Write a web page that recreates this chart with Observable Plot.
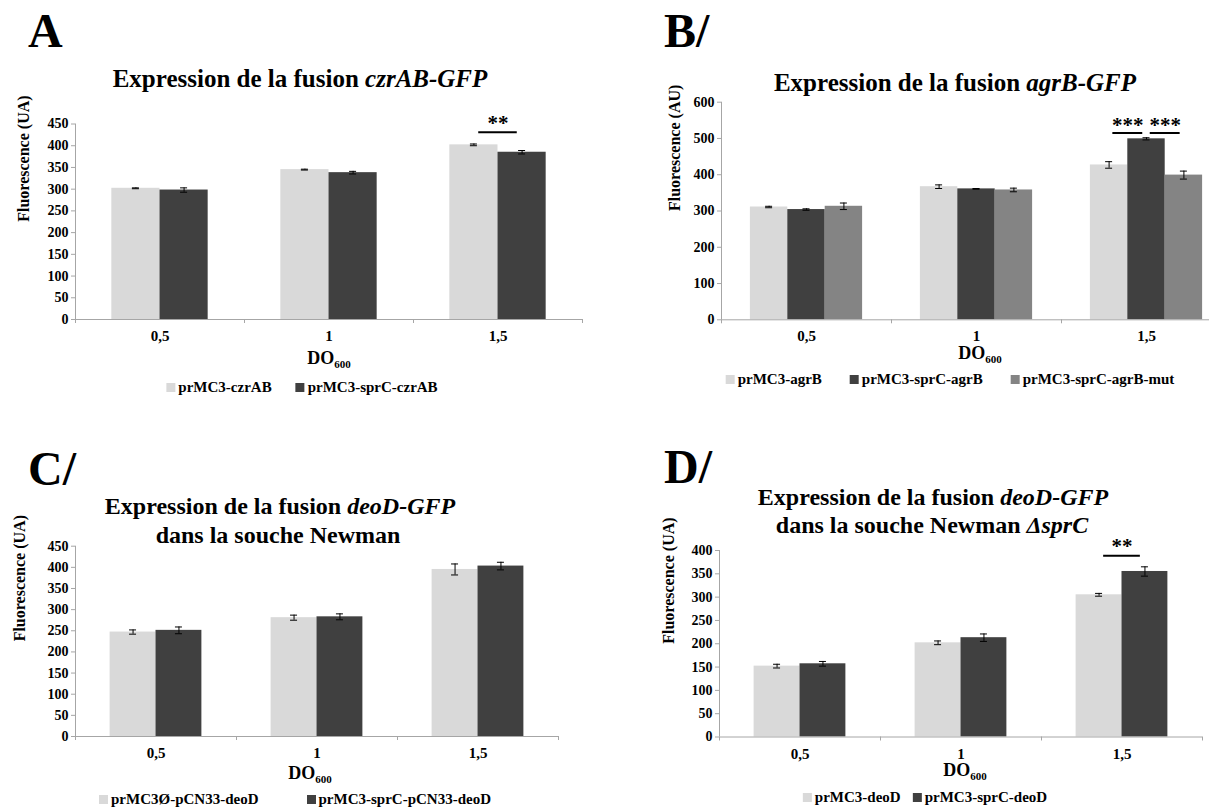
<!DOCTYPE html>
<html><head><meta charset="utf-8">
<script src="https://cdn.jsdelivr.net/npm/d3@7"></script>
<script src="https://cdn.jsdelivr.net/npm/@observablehq/plot@0.6"></script>
<style>
html,body{margin:0;padding:0;background:#fff;}
#page{position:relative;width:1209px;height:809px;overflow:hidden;font-family:"Liberation Serif","Times New Roman",serif;font-weight:bold;color:#000;}
#page svg text{font-family:"Liberation Serif","Times New Roman",serif !important;font-weight:bold;}
.abs{position:absolute;white-space:nowrap;line-height:1;}
.sw{display:inline-block;width:9px;height:9px;margin-right:3px;}
</style></head><body><div id="page"></div>
<script>
// ---------- data ----------
const categories = ["0,5", "1", "1,5"];

const aSeries = ["prMC3-czrAB", "prMC3-sprC-czrAB"];
const aValues = [[302, 345, 402], [298, 338, 385]];
const aErrors = [[1, 1, 2], [5, 3, 4]];
const aSig = [{cat: "1,5", a: 0, b: 1, level: 431, label: "**"}];

const bSeries = ["prMC3-agrB", "prMC3-sprC-agrB", "prMC3-sprC-agrB-mut"];
const bValues = [[311, 367, 427], [304, 361, 499], [313, 358, 399]];
const bErrors = [[2, 5, 9], [2, 1, 3], [9, 5, 11]];
const bSig = [{cat: "1,5", a: 0, b: 1, level: 515, label: "***"}, {cat: "1,5", a: 1, b: 2, level: 515, label: "***"}];

const cSeries = ["prMC3Ø-pCN33-deoD", "prMC3-sprC-pCN33-deoD"];
const cValues = [[247, 281, 395], [251, 283, 403]];
const cErrors = [[5, 6, 13], [8, 7, 9]];
const cSig = [];

const dSeries = ["prMC3-deoD", "prMC3-sprC-deoD"];
const dValues = [[152, 202, 305], [157, 213, 355]];
const dErrors = [[4, 4, 3], [5, 8, 10]];
const dSig = [{cat: "1,5", a: 0, b: 1, level: 389, label: "**"}];

// ---------- styles ----------
const LIGHT = "#d9d9d9", DARK = "#404040", MID = "#848484";
const axisColor = "#a6a6a6";
const FONT = '"Liberation Serif","Times New Roman",serif';
const page = document.getElementById("page");

function addText(html, x, baseline, size, anchor = "middle") {
  const d = document.createElement("div");
  d.className = "abs";
  d.innerHTML = html;
  d.style.fontSize = size + "px";
  d.style.top = (baseline - 0.8375 * size) + "px";
  d.style.left = x + "px";
  if (anchor === "middle") d.style.transform = "translateX(-50%)";
  page.appendChild(d);
  return d;
}

function addLegend(names, colors, cx, baseline, gap) {
  const html = names.map((n, i) =>
    `<span style="margin-left:${i ? gap : 0}px"><span class="sw" style="background:${colors[i]}"></span>${n}</span>`).join("");
  addText(html, cx, baseline, 15);
}

function buildPanel(cfg) {
  const {left, top, width, height, ml, mr, mt, mb, yMax, yStep, yLabel, labelOffset,
         series, values, errors, colors, groupFrac, sig, starDy} = cfg;
  const n = series.length;
  const bw = (width - ml - mr) / categories.length;
  const barW = bw * groupFrac / n;
  const off = s => (s - (n - 1) / 2) * barW;
  const rows = [];
  categories.forEach((c, i) => series.forEach((name, s) =>
    rows.push({cat: c, series: name, s, value: values[s][i], err: errors[s][i]})));
  const plotH = height - mt - mb;
  const tickUnits = 4 * yMax / plotH;
  const cap = 7;
  const marks = [];
  series.forEach((name, s) => {
    const sub = rows.filter(d => d.s === s);
    const L = bw / 2 + off(s) - barW / 2;
    marks.push(Plot.barY(sub, {x: "cat", y: "value", fill: colors[s], insetLeft: L, insetRight: bw - L - barW}));
  });
  marks.push(Plot.ruleY([0], {stroke: axisColor}));
  marks.push(Plot.ruleX(categories.slice(0, 1), {x: d => d, dx: -bw / 2, y1: 0, y2: yMax, stroke: axisColor}));
  marks.push(Plot.ruleX(categories, {x: d => d, dx: -bw / 2, y1: 0, y2: -tickUnits, stroke: axisColor}));
  marks.push(Plot.ruleX(categories.slice(-1), {x: d => d, dx: bw / 2, y1: 0, y2: -tickUnits, stroke: axisColor}));
  series.forEach((name, s) => {
    const sub = rows.filter(d => d.s === s);
    marks.push(Plot.ruleX(sub, {x: "cat", y1: d => d.value - d.err, y2: d => d.value + d.err, dx: off(s), stroke: "#000", strokeWidth: 1}));
    const iL = bw / 2 + off(s) - cap / 2, iR = bw / 2 - off(s) - cap / 2;
    marks.push(Plot.tickY(sub, {x: "cat", y: d => d.value + d.err, insetLeft: iL, insetRight: iR, stroke: "#000"}));
    marks.push(Plot.tickY(sub, {x: "cat", y: d => d.value - d.err, insetLeft: iL, insetRight: iR, stroke: "#000"}));
  });
  sig.forEach(g => {
    const mid = (off(g.a) + off(g.b)) / 2, w = 0.8 * barW;
    marks.push(Plot.tickY([g], {x: "cat", y: "level", insetLeft: bw / 2 + mid - w / 2, insetRight: bw / 2 - mid - w / 2, stroke: "#000", strokeWidth: 2}));
    marks.push(Plot.text([g], {x: "cat", y: "level", text: "label", dx: mid, dy: starDy, fontSize: 21, fontWeight: "bold"}));
  });
  marks.push(Plot.axisY({ticks: d3.range(0, yMax + 1, yStep), tickSize: 4, tickPadding: 3, stroke: axisColor,
    fontSize: 14, label: null, tickFormat: d => String(d)}));
  marks.push(Plot.text([yLabel], {text: d => d, frameAnchor: "left", rotate: -90, dx: -labelOffset, fontSize: 16, fontWeight: "bold"}));
  marks.push(Plot.axisX({tickSize: 0, tickPadding: 11, fontSize: 15, label: null}));
  const svg = Plot.plot({
    width, height, marginLeft: ml, marginRight: mr, marginTop: mt, marginBottom: mb,
    x: {type: "band", domain: categories, padding: 0},
    y: {domain: [0, yMax]},
    style: {fontFamily: FONT, fontWeight: "bold", color: "#000", background: "transparent", overflow: "visible"},
    marks
  });
  svg.style.position = "absolute";
  svg.style.left = left + "px";
  svg.style.top = top + "px";
  page.appendChild(svg);
}

const DO = 'DO<span style="font-size:11px;vertical-align:-4px">600</span>';

// Panel A
addText("A", 28, 47, 48, "start");
addText('Expression de la fusion <i>czrAB-GFP</i>', 300, 87, 25);
buildPanel({left: 0, top: 0, width: 600, height: 400, ml: 75, mr: 18, mt: 123.5, mb: 81, yMax: 450, yStep: 50,
  yLabel: "Fluorescence (UA)", labelOffset: 52, series: aSeries, values: aValues, errors: aErrors,
  colors: [LIGHT, DARK], groupFrac: 0.57, sig: aSig, starDy: -9});
addText(DO, 329, 364, 18);
addLegend(aSeries, [LIGHT, DARK], 302, 393, 24);

// Panel B
addText("B/", 664, 47, 48, "start");
addText('Expression de la fusion <i>agrB-GFP</i>', 955, 91, 25);
buildPanel({left: 600, top: 0, width: 640, height: 400, ml: 121, mr: 9, mt: 101.7, mb: 80.7, yMax: 600, yStep: 100,
  yLabel: "Fluorescence (AU)", labelOffset: 47, series: bSeries, values: bValues, errors: bErrors,
  colors: [LIGHT, DARK, MID], groupFrac: 0.66, sig: bSig, starDy: -8});
addText(DO, 980, 359, 18);
addLegend(bSeries, [LIGHT, DARK, MID], 950, 385, 28);

// Panel C
addText("C/", 28, 485, 48, "start");
addText('Expression de la fusion <i>deoD-GFP</i>', 280, 514, 24);
addText('dans la souche Newman', 278, 543, 24);
buildPanel({left: 0, top: 400, width: 600, height: 409, ml: 75, mr: 42, mt: 145.7, mb: 73, yMax: 450, yStep: 50,
  yLabel: "Fluorescence (UA)", labelOffset: 56, series: cSeries, values: cValues, errors: cErrors,
  colors: [LIGHT, DARK], groupFrac: 0.57, sig: cSig, starDy: -9});
addText(DO, 310, 779, 18);
addLegend(cSeries, [LIGHT, DARK], 295, 805, 48);

// Panel D
addText("D/", 664, 483, 48, "start");
addText('Expression de la fusion <i>deoD-GFP</i>', 933, 505, 24);
addText('dans la souche Newman <i>ΔsprC</i>', 932, 533, 24);
buildPanel({left: 600, top: 400, width: 609, height: 409, ml: 119, mr: 7, mt: 150, mb: 72.5, yMax: 400, yStep: 50,
  yLabel: "Fluorescence (UA)", labelOffset: 51, series: dSeries, values: dValues, errors: dErrors,
  colors: [LIGHT, DARK], groupFrac: 0.57, sig: dSig, starDy: -9});
addText(DO, 965, 776, 18);
addLegend(dSeries, [LIGHT, DARK], 925, 803, 12);
</script></body></html>
